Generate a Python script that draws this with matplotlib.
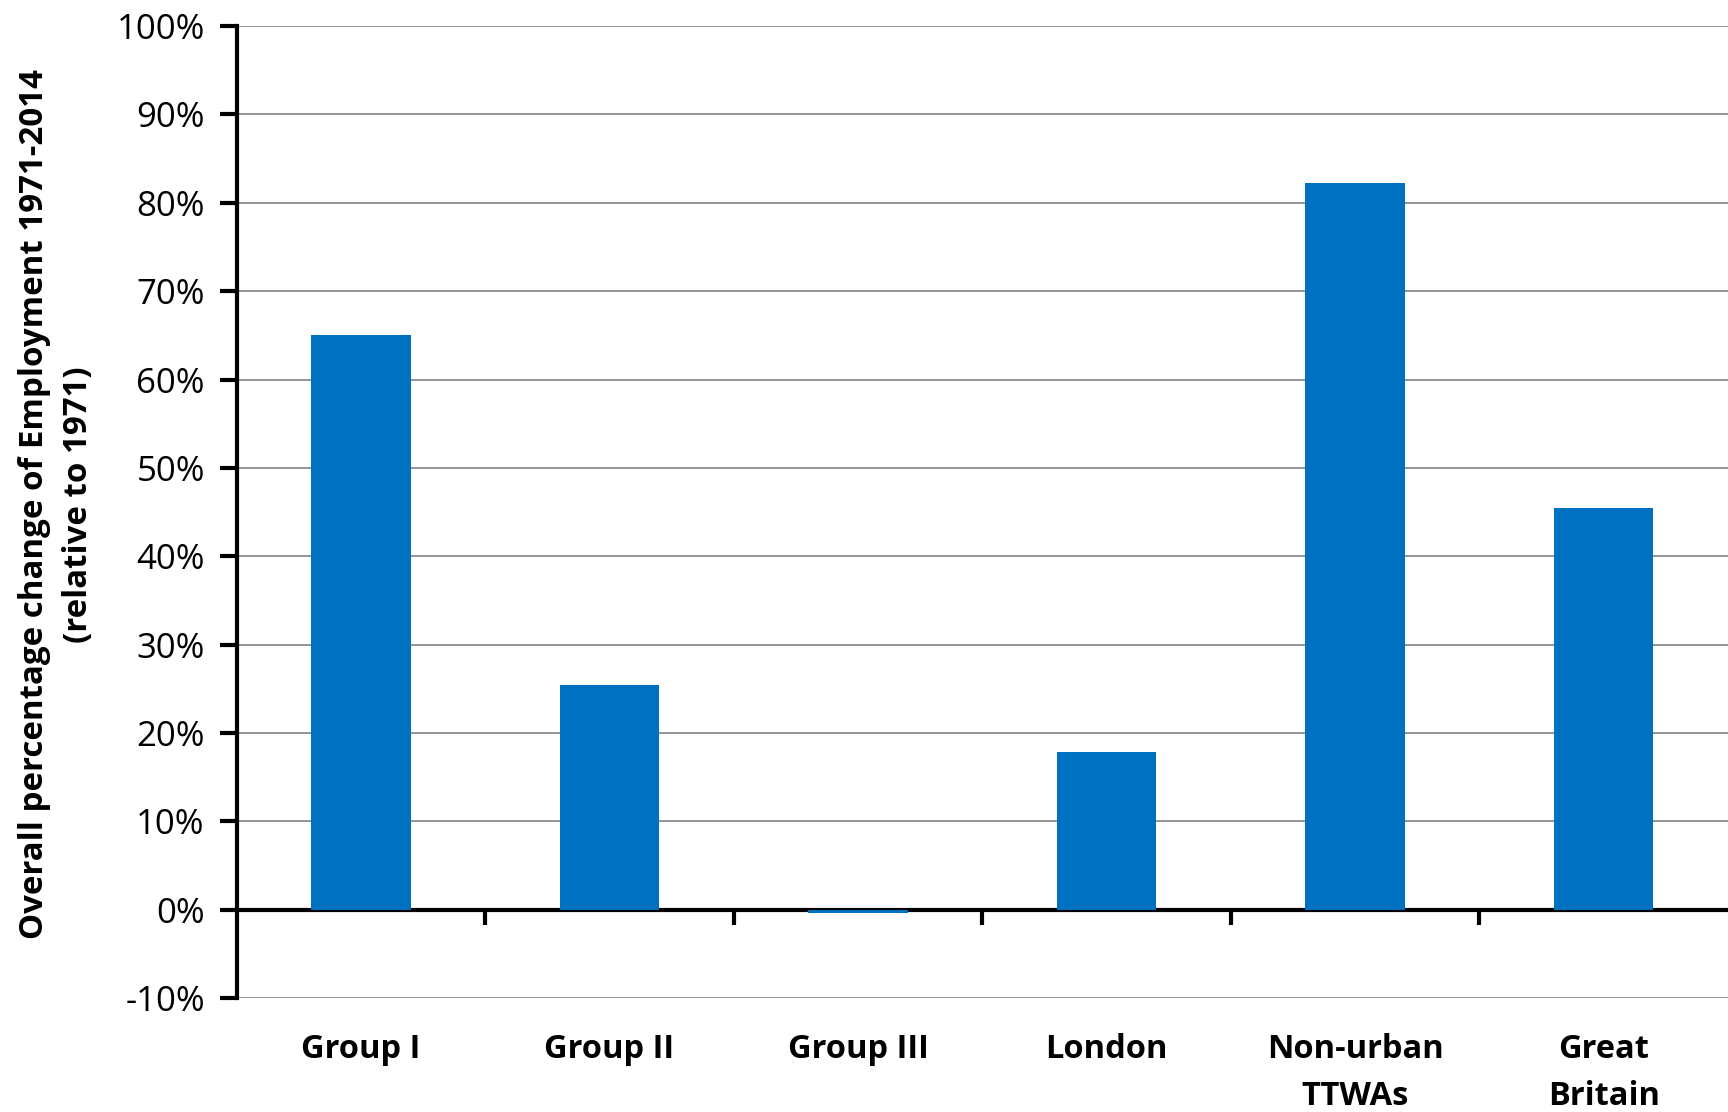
import matplotlib
matplotlib.use("Agg")
import matplotlib.pyplot as plt
from matplotlib.ticker import FixedLocator, FuncFormatter

# ---------------------------------------------------------------------------
# Data
# ---------------------------------------------------------------------------
categories = ["Group I", "Group II", "Group III", "London",
              "Non-urban\nTTWAs", "Great\nBritain"]
change_pct = [65.0, 25.4, -0.4, 17.8, 82.2, 45.5]

BAR_COLOR = "#0070C0"
GRID_COLOR = "#8C8C8C"
FONT = "Open Sans"

plt.rcParams["font.family"] = [FONT, "DejaVu Sans"]
plt.rcParams["axes.unicode_minus"] = False

fig = plt.figure(figsize=(17.28, 11.12), dpi=100)
ax = fig.add_axes([0.137, 0.1025, 0.863, 0.874])

x = list(range(len(categories)))
ax.bar(x, change_pct, width=0.4, color=BAR_COLOR, zorder=4)

ax.set_xlim(-0.5, len(categories) - 0.5)
ax.set_ylim(-10, 100)
ax.set_yticks(range(-10, 101, 10))
ax.yaxis.set_major_formatter(FuncFormatter(lambda v, _: f"{v:.0f}%"))
ax.grid(axis="y", color=GRID_COLOR, lw=1.3, zorder=0)
ax.grid(axis="x", visible=False)

# spines: left and a zero line, nothing else
for side in ("top", "right"):
    ax.spines[side].set_visible(False)
ax.spines["left"].set_linewidth(3)
ax.spines["bottom"].set_linewidth(3)
ax.spines["bottom"].set_position(("data", 0))
ax.spines["left"].set_zorder(3)
ax.spines["bottom"].set_zorder(3)

# category labels below the -10% line, boundary ticks hanging off the 0 line
ax.set_xticks(x)
ax.set_xticklabels(categories, fontsize=23.5, fontweight="bold",
                   linespacing=1.55, va="top")
ax.tick_params(axis="x", which="major", length=0, pad=89)
ax.xaxis.set_minor_locator(FixedLocator([i + 0.5 for i in x[:-1]]))
ax.tick_params(axis="x", which="minor", length=11, width=3, direction="out")

ax.tick_params(axis="y", length=12, width=3, labelsize=25, pad=11)

ax.set_ylabel("Overall percentage change of Employment 1971-2014\n(relative to 1971)",
              fontsize=23.8, fontweight="bold", linespacing=1.45)
ax.yaxis.set_label_coords(-0.095, 0.508)
ax.yaxis.label.set_horizontalalignment("center")

fig.savefig("out.png", dpi=100, facecolor="white")
